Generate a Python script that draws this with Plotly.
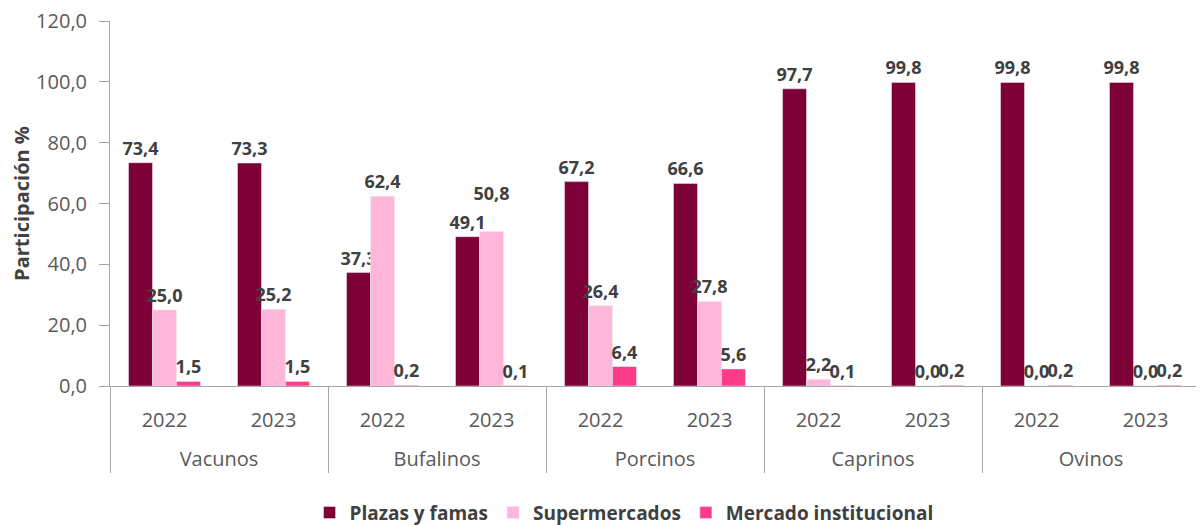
import plotly.graph_objects as go

groups = ["Vacunos", "Vacunos", "Bufalinos", "Bufalinos", "Porcinos", "Porcinos",
          "Caprinos", "Caprinos", "Ovinos", "Ovinos"]
years = ["2022", "2023"] * 5
plazas = [73.4, 73.3, 37.3, 49.1, 67.2, 66.6, 97.7, 99.8, 99.8, 99.8]
super_ = [25.0, 25.2, 62.4, 50.8, 26.4, 27.8, 2.2, 0.0, 0.0, 0.0]
mercado = [1.5, 1.5, 0.2, 0.1, 6.4, 5.6, 0.1, 0.2, 0.2, 0.2]

series = [
    ("Plazas y famas", plazas, "#7d0036"),
    ("Supermercados", super_, "#ffb6d8"),
    ("Mercado institucional", mercado, "#ff3b8c"),
]

def fmt(v):
    return f"{v:.1f}".replace(".", ",")

group_labels = ["<br>" + g for g in groups]

fig = go.Figure()
for name, vals, col in series:
    texts = [fmt(v) for v in vals]
    if name == "Supermercados":
        # lift the Bufalinos 2023 label above its neighbour, as in the reference
        texts[3] = texts[3] + "<br> "
    fig.add_trace(go.Bar(
        x=[group_labels, years], y=vals, name=name, marker_color=col,
        text=texts, textposition="outside",
        textfont=dict(family="Open Sans", size=18, color="#404040", weight="bold"),
        constraintext="none", cliponaxis=False,
    ))

fig.update_layout(
    width=1204, height=525,
    margin=dict(l=102, r=12, t=13, b=147, autoexpand=False),
    barmode="group", bargap=0.34, bargroupgap=0,
    plot_bgcolor="white", paper_bgcolor="white",
    separators=",.",
    font=dict(family="Open Sans", size=20, color="#595959"),
    legend=dict(orientation="h", x=0.4716, xanchor="center", y=-0.347, yanchor="middle",
                font=dict(size=19, color="#404040", weight="bold"), traceorder="normal"),
    yaxis=dict(range=[0, 120], dtick=20, tickformat=".1f", showgrid=False, automargin=False,
               showline=True, linecolor="#a6a6a6", ticks="outside", tickcolor="#a6a6a6",
               ticklen=10, ticklabelstandoff=8, ticklabeloverflow="allow",
               tickfont=dict(size=20, color="#595959"),
               title=dict(text="Participación %", standoff=10,
                          font=dict(size=20, color="#404040", weight="bold"))),
    xaxis=dict(showline=True, linecolor="#a6a6a6", showgrid=False, automargin=False,
               ticklabelstandoff=16,
               dividercolor="#a6a6a6", dividerwidth=1, tickfont=dict(size=20, color="#595959")),
)
fig.write_html("out.html")
